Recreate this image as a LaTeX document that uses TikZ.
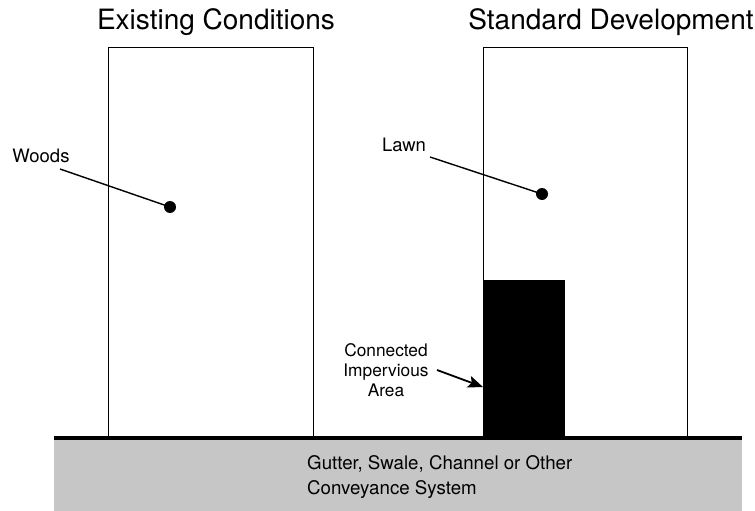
\documentclass[tikz,border=0pt]{standalone}
\usepackage{fontspec}
\setmainfont{TeX Gyre Heros}
\usetikzlibrary{arrows.meta}
\definecolor{conveygray}{HTML}{C6C6C6}
\tikzset{
  areabox/.style={draw=black, line width=1.3pt, fill=white, inner sep=0pt, anchor=north west},
  title/.style={font=\fontsize{28}{32}\selectfont, inner sep=0pt},
  lbl/.style={font=\fontsize{18.5}{20}\selectfont, inner sep=0pt, align=center},
  dotmark/.style={circle, fill=black, minimum size=12pt, inner sep=0pt},
  leader/.style={line width=1.4pt},
}
\begin{document}
\begin{tikzpicture}[x=1pt,y=-1pt]
\useasboundingbox (0,0) rectangle (755,511);
% conveyance system
\node[fill=conveygray, inner sep=0pt, anchor=north west, minimum width=688pt, minimum height=73pt] (gutter) at (54,438) {};
\node[anchor=west, inner sep=0pt, align=left, font=\fontsize{18.7}{25}\selectfont] (guttertext) at (307,477) {Gutter, Swale, Channel or Other\\Conveyance System};
% area boxes
\node[areabox, minimum width=205pt, minimum height=391pt] (exist) at (108,47) {};
\node[areabox, minimum width=204pt, minimum height=391pt] (std) at (483,47) {};
\node[fill=black, inner sep=0pt, anchor=north west, minimum width=82pt, minimum height=158pt] (imperv) at (483,280) {};
% ground line
\draw[line width=4pt] (gutter.north west) -- (gutter.north east);
% titles
\node[title] (t1) at (216,22) {Existing Conditions};
\node[title] (t2) at (611,22) {Standard Development};
% labels
\node[lbl] (woods) at (41,156) {Woods};
\node[dotmark] (wdot) at (170,207) {};
\coordinate (wstart) at (60,169);
\draw[leader] (wstart) -- (wdot.center);
\node[lbl] (lawn) at (404,145) {Lawn};
\node[dotmark] (ldot) at (542,194) {};
\coordinate (lstart) at (430,157);
\draw[leader] (lstart) -- (ldot.center);
\node[lbl, font=\fontsize{17.3}{20}\selectfont] (cia) at (386,370) {Connected\\Impervious\\Area};
\coordinate (ciastart) at (437,370);
\coordinate (ciatip) at (483,387);
\draw[line width=1.8pt, -{Stealth[length=15pt,width=12pt,inset=3pt]}] (ciastart) -- (ciatip);
\end{tikzpicture}
\end{document}
